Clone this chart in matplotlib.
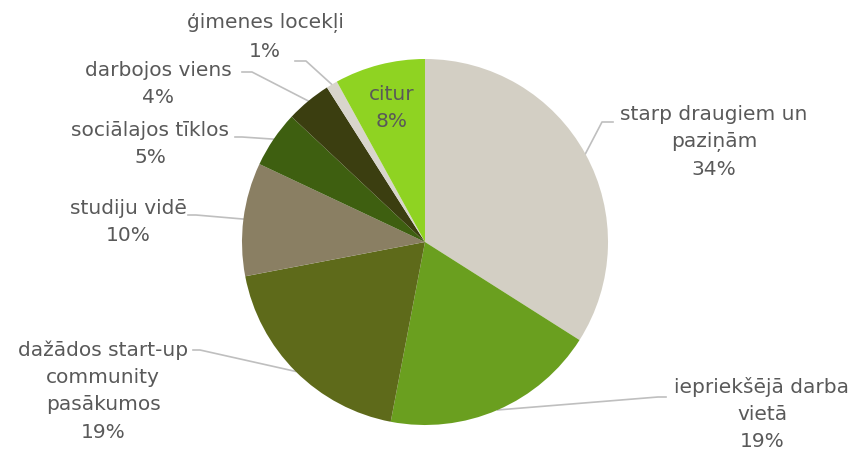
import numpy as np
import matplotlib.pyplot as plt

# Data (clockwise from 12 o'clock)
labels = ["starp draugiem un\npaziņām", "iepriekšējā darba\nvietā",
          "dažādos start-up\ncommunity\npasākumos", "studiju vidē",
          "sociālajos tīklos", "darbojos viens", "ģimenes locekļi", "citur"]
values = [34, 19, 19, 10, 5, 4, 1, 8]
colors = ["#D3CFC4", "#6A9F1F", "#5E6A1A", "#8A7F63",
          "#3E5F10", "#3B3E10", "#D8D5CC", "#8FD322"]

# Layout (image pixel coords, y down): text center, leader elbow, leader end
text_pos = [(714, 142), (762, 414), (103, 391), (128, 222),
            (150, 144), (158, 84), (265, 37), (392, 108)]
elbows = [(602, 122), (658, 397), (200, 350), (196, 215),
          (242, 137), (252, 72), (306, 61), None]
ends = [(613, 122), (666, 397), (193, 350), (188, 215),
        (235, 137), (242, 72), (295, 61), None]

W, H = 858, 455
cx, cy, r = 425, H - 242, 183

fig = plt.figure(figsize=(8.58, 4.55), dpi=100)
ax = fig.add_axes([0, 0, 1, 1])

wedges, _ = ax.pie(values, colors=colors, startangle=90, counterclock=False,
                   center=(cx, cy), radius=r, frame=True,
                   wedgeprops=dict(linewidth=0))
ax.set_xlim(0, W)
ax.set_ylim(0, H)
ax.set_aspect("equal")
ax.axis("off")

txt_color = "#595959"
for w, lab, v, tp, el, en in zip(wedges, labels, values, text_pos, elbows, ends):
    ax.text(tp[0], H - tp[1], f"{lab}\n{v}%", ha="center", va="center",
            fontsize=14.5, color=txt_color, linespacing=1.55,
            family="DejaVu Sans")
    if el is None:
        continue
    ang = np.deg2rad((w.theta1 + w.theta2) / 2)
    px, py = cx + r * np.cos(ang), cy + r * np.sin(ang)
    ax.plot([px, el[0], en[0]], [py, H - el[1], H - en[1]],
            color="#BFBFBF", lw=1.2, zorder=0.5)

fig.savefig("out.png", dpi=100)
